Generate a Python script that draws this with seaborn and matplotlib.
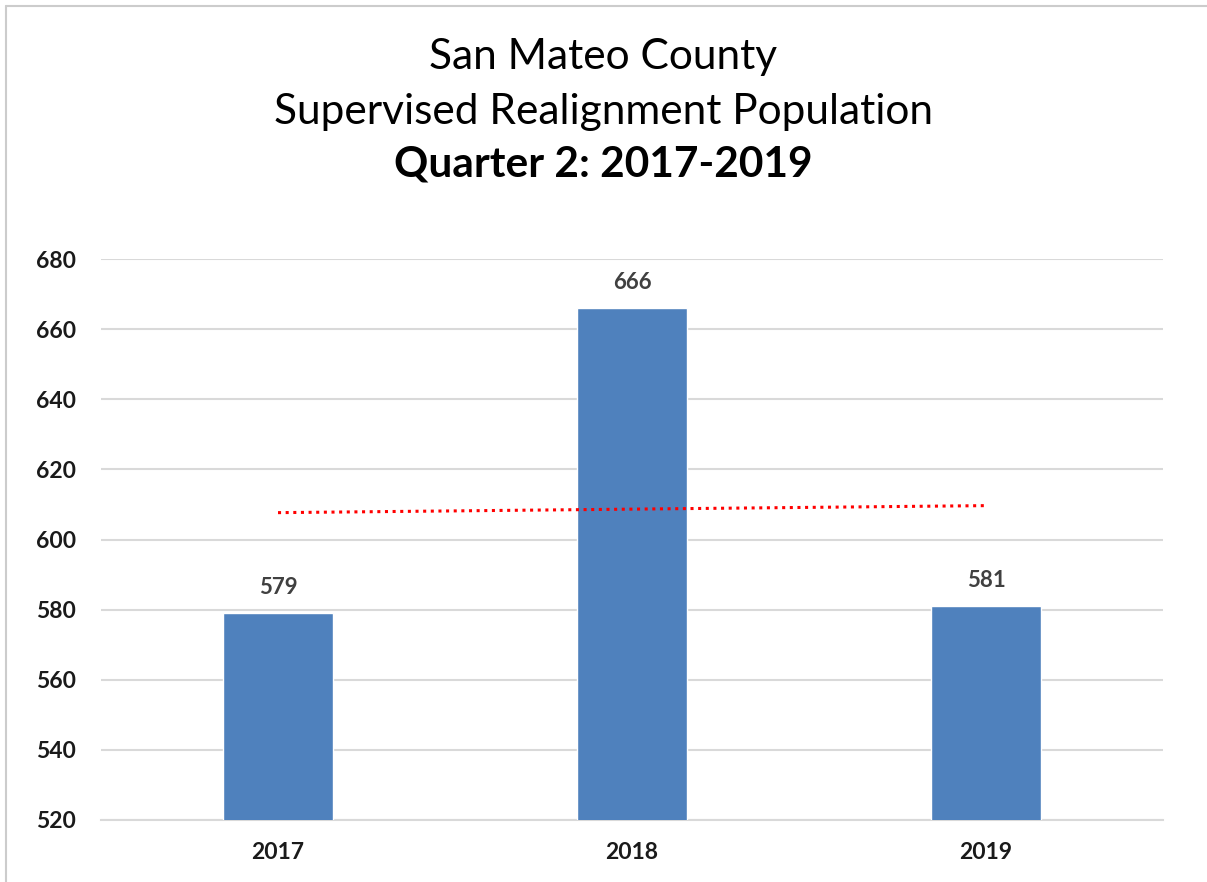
import pandas as pd
import numpy as np
import matplotlib.pyplot as plt
import seaborn as sns
from matplotlib.lines import Line2D

# data
years = ["2017", "2018", "2019"]
population = [579, 666, 581]
y_ticks = [520, 540, 560, 580, 600, 620, 640, 660, 680]

df = pd.DataFrame({"year": years, "population": population})
df["pos"] = np.arange(len(years))

sns.set_theme(style="white")
plt.rcParams["font.family"] = ["Lato", "DejaVu Sans"]

fig = plt.figure(figsize=(12.07, 8.82), dpi=100)
ax = fig.add_axes([0.0837, 0.0703, 0.8798, 0.6360])

sns.barplot(data=df, x="year", y="population", color="#4F81BD",
            width=0.31, saturation=1, ax=ax, zorder=3)

# linear trendline (Excel style)
sns.regplot(data=df, x="pos", y="population", scatter=False, ci=None,
            ax=ax, line_kws=dict(color="#FF0000", linestyle=(0, (1, 1.5)),
                                 linewidth=2.2, dash_capstyle="butt", zorder=4))

ax.set_ylim(520, 680)
ax.set_xlim(-0.5, 2.5)
ax.set_yticks(y_ticks)
ax.yaxis.grid(True, color="#D9D9D9", linewidth=1.5, zorder=0)
ax.set_axisbelow(True)
for s in ["top", "right", "left"]:
    ax.spines[s].set_visible(False)
ax.spines["bottom"].set_color("#D9D9D9")
ax.spines["bottom"].set_linewidth(1.5)
ax.set_xlabel("")
ax.set_ylabel("")
ax.tick_params(axis="both", length=0, labelsize=16.5)
ax.tick_params(axis="y", pad=18)
ax.tick_params(axis="x", pad=16)
for lab in ax.get_xticklabels() + ax.get_yticklabels():
    lab.set_fontweight("bold")
    lab.set_color("#1a1a1a")

for i, v in enumerate(population):
    ax.annotate(f"{v}", (i, v), xytext=(0, 11), textcoords="offset points",
                ha="center", va="bottom", fontsize=16, fontweight="bold",
                color="#404040")

fig.text(0.5, 0.935, "San Mateo County", ha="center", va="center", fontsize=30.5, color="#000000")
fig.text(0.5, 0.873, "Supervised Realignment Population", ha="center", va="center", fontsize=30.5, color="#000000")
fig.text(0.5, 0.813, "Quarter 2: 2017-2019", ha="center", va="center", fontsize=30.5,
         fontweight="bold", color="#000000")

# chart area frame (left and top edges visible in the crop)
fig.add_artist(Line2D([0.005, 0.005], [0, 0.993], color="#CCCCCC", linewidth=1.5))
fig.add_artist(Line2D([0.005, 1.0], [0.993, 0.993], color="#CCCCCC", linewidth=1.5))

fig.savefig("out.png", dpi=100)
